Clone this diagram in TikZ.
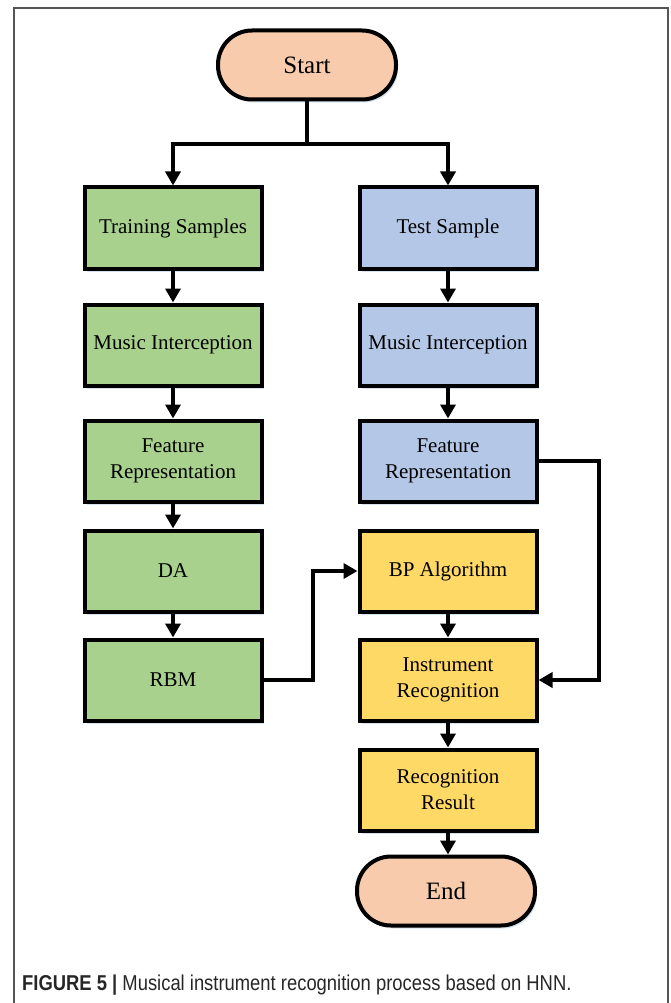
\documentclass[tikz,border=0pt]{standalone}
\usepackage{fontspec}
\setmainfont{Liberation Serif}
\newfontfamily\capfont{Liberation Sans}
\usetikzlibrary{arrows.meta,shadows}
\definecolor{cgreen}{HTML}{A9D18E}
\definecolor{cblue}{HTML}{B4C7E7}
\definecolor{cyellow}{HTML}{FFD966}
\definecolor{cpeach}{HTML}{F8CBAD}
\definecolor{cshadow}{HTML}{D6E2F0}
\definecolor{cframe}{HTML}{555555}
\tikzset{
  box/.style={draw=black, line width=4pt, minimum width=177pt, minimum height=81pt,
    align=center, font=\fontsize{21}{26}\selectfont, inner sep=2pt,
    drop shadow={shadow xshift=2pt, shadow yshift=-3pt, fill=cshadow, opacity=1}},
  term/.style={draw=black, line width=4pt, minimum width=178pt, minimum height=69pt,
    rounded corners=34pt, align=center, font=\fontsize{25}{30}\selectfont,
    fill=cpeach, drop shadow={shadow xshift=2pt, shadow yshift=-3pt, fill=cshadow, opacity=1}},
  conn/.style={draw=black, line width=3.5pt},
  arr/.style={conn, -{Triangle[length=14pt,width=15pt]}},
}
\begin{document}
\begin{tikzpicture}[x=1pt,y=-1pt]
\useasboundingbox (0,0) rectangle (670,1003);
\draw[cframe, line width=1.5pt] (14,1003) -- (14,8) -- (668,8) -- (668,1003);
% terminals
\node[term] (start) at (307,65) {Start};
\node[term] (end) at (446,891) {End};
% left column
\node[box, fill=cgreen] (ts) at (173,228) {Training Samples};
\node[box, fill=cgreen] (tm) at (173,345) {Music Interception};
\node[box, fill=cgreen] (tf) at (173,461) {Feature\\Representation};
\node[box, fill=cgreen] (da) at (173,571) {DA};
\node[box, fill=cgreen] (rbm) at (173,680) {RBM};
% right column
\node[box, fill=cblue] (xs) at (448,228) {Test Sample};
\node[box, fill=cblue] (xm) at (448,345) {Music Interception};
\node[box, fill=cblue] (xf) at (448,461) {Feature\\Representation};
\node[box, fill=cyellow] (bp) at (448,571) {BP Algorithm};
\node[box, fill=cyellow] (ir) at (448,680) {Instrument\\Recognition};
\node[box, fill=cyellow] (rr) at (448,790) {Recognition\\Result};
% junctions
\coordinate (split) at (307,144);
\coordinate (j1) at (313,0);
\coordinate (j2) at (599,0);
% connectors
\draw[conn] (start.south) -- (split);
\draw[arr] (split) -| (ts.north);
\draw[arr] (split) -| (xs.north);
\draw[arr] (ts) -- (tm);
\draw[arr] (tm) -- (tf);
\draw[arr] (tf) -- (da);
\draw[arr] (da) -- (rbm);
\draw[arr] (xs) -- (xm);
\draw[arr] (xm) -- (xf);
\draw[arr] (bp) -- (ir);
\draw[arr] (ir) -- (rr);
\draw[arr] (rr.south) -- (rr.south |- end.north);
\draw[arr] (rbm.east) -- (j1 |- rbm.east) -- (j1 |- bp.west) -- (bp.west);
\draw[arr] (xf.east) -- (j2 |- xf.east) -- (j2 |- ir.east) -- (ir.east);
% caption
\node[anchor=base west, inner sep=0pt, font=\capfont\fontsize{21.5}{24}\selectfont, text=black!85] (cap) at (22,990)
  {\scalebox{0.856}[1]{{\bfseries FIGURE 5 |} Musical instrument recognition process based on HNN.}};
\end{tikzpicture}
\end{document}
